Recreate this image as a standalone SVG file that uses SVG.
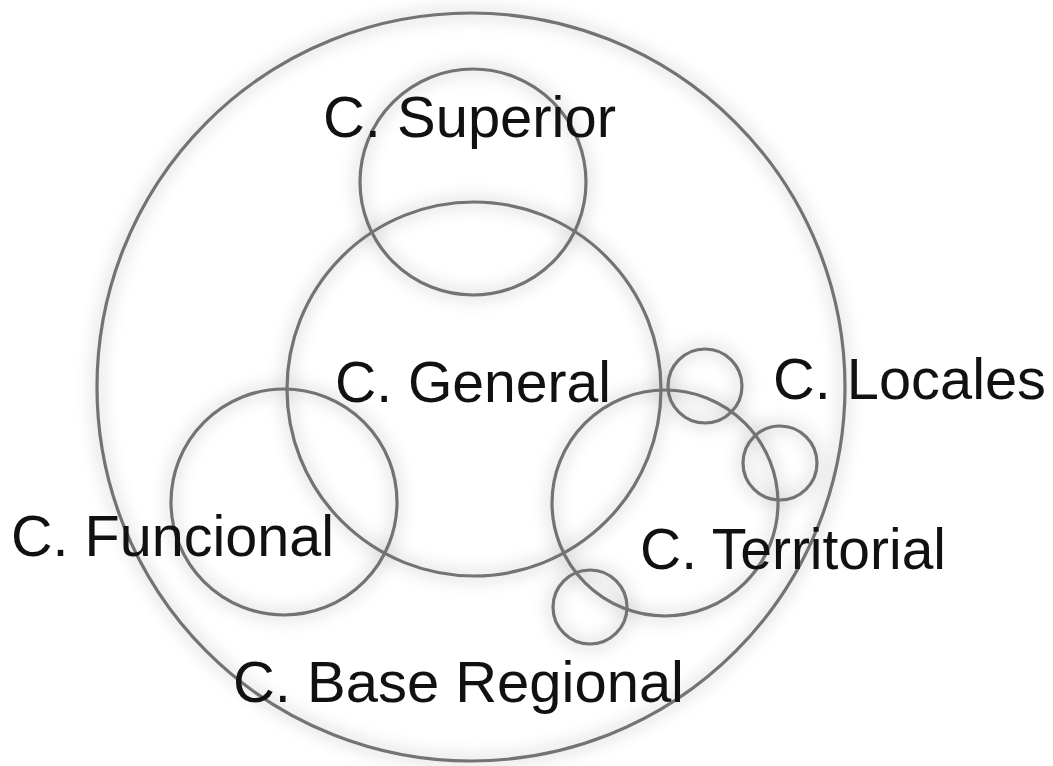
<svg xmlns="http://www.w3.org/2000/svg" width="1053" height="766" viewBox="0 0 1053 766">
<defs>
<filter id="glow" x="-20%" y="-20%" width="140%" height="140%">
<feGaussianBlur stdDeviation="7"/>
</filter>
<style>
.ring{fill:none;stroke:#737373;stroke-width:3.2}
.halo{fill:none;stroke:#000;stroke-opacity:0.07;stroke-width:18}
.lbl{font-family:"Liberation Sans",Arial,sans-serif;font-size:58px;fill:#111}
</style>
</defs>
<rect width="1053" height="766" fill="#fff"/>
<g id="halos" filter="url(#glow)">
<circle class="halo" cx="471" cy="387" r="374"/>
<circle class="halo" cx="473" cy="182" r="113"/>
<circle class="halo" cx="474" cy="389" r="187"/>
<circle class="halo" cx="284" cy="502" r="113"/>
<circle class="halo" cx="665" cy="503" r="113"/>
<circle class="halo" cx="705" cy="386" r="37"/>
<circle class="halo" cx="780" cy="463" r="37"/>
<circle class="halo" cx="590" cy="607" r="37"/>
</g>
<g id="outer"><circle class="ring" cx="471" cy="387" r="374"/></g>
<g id="superior"><circle class="ring" cx="473" cy="182" r="113"/><text class="lbl" x="323" y="137" textLength="293" lengthAdjust="spacingAndGlyphs">C. Superior</text></g>
<g id="general"><circle class="ring" cx="474" cy="389" r="187"/><text class="lbl" x="335" y="402" textLength="276" lengthAdjust="spacingAndGlyphs">C. General</text></g>
<g id="funcional"><circle class="ring" cx="284" cy="502" r="113"/><text class="lbl" x="11" y="556" textLength="323" lengthAdjust="spacingAndGlyphs">C. Funcional</text></g>
<g id="territorial"><circle class="ring" cx="665" cy="503" r="113"/><text class="lbl" x="640" y="569" textLength="306" lengthAdjust="spacingAndGlyphs">C. Territorial</text></g>
<g id="locales">
<circle class="ring" cx="705" cy="386" r="37"/>
<circle class="ring" cx="780" cy="463" r="37"/>
<text class="lbl" x="773" y="399" textLength="273" lengthAdjust="spacingAndGlyphs">C. Locales</text>
</g>
<g id="base-regional"><circle class="ring" cx="590" cy="607" r="37"/><text class="lbl" x="233" y="702" textLength="451" lengthAdjust="spacingAndGlyphs">C. Base Regional</text></g>
<g id="connectors"/>
</svg>
